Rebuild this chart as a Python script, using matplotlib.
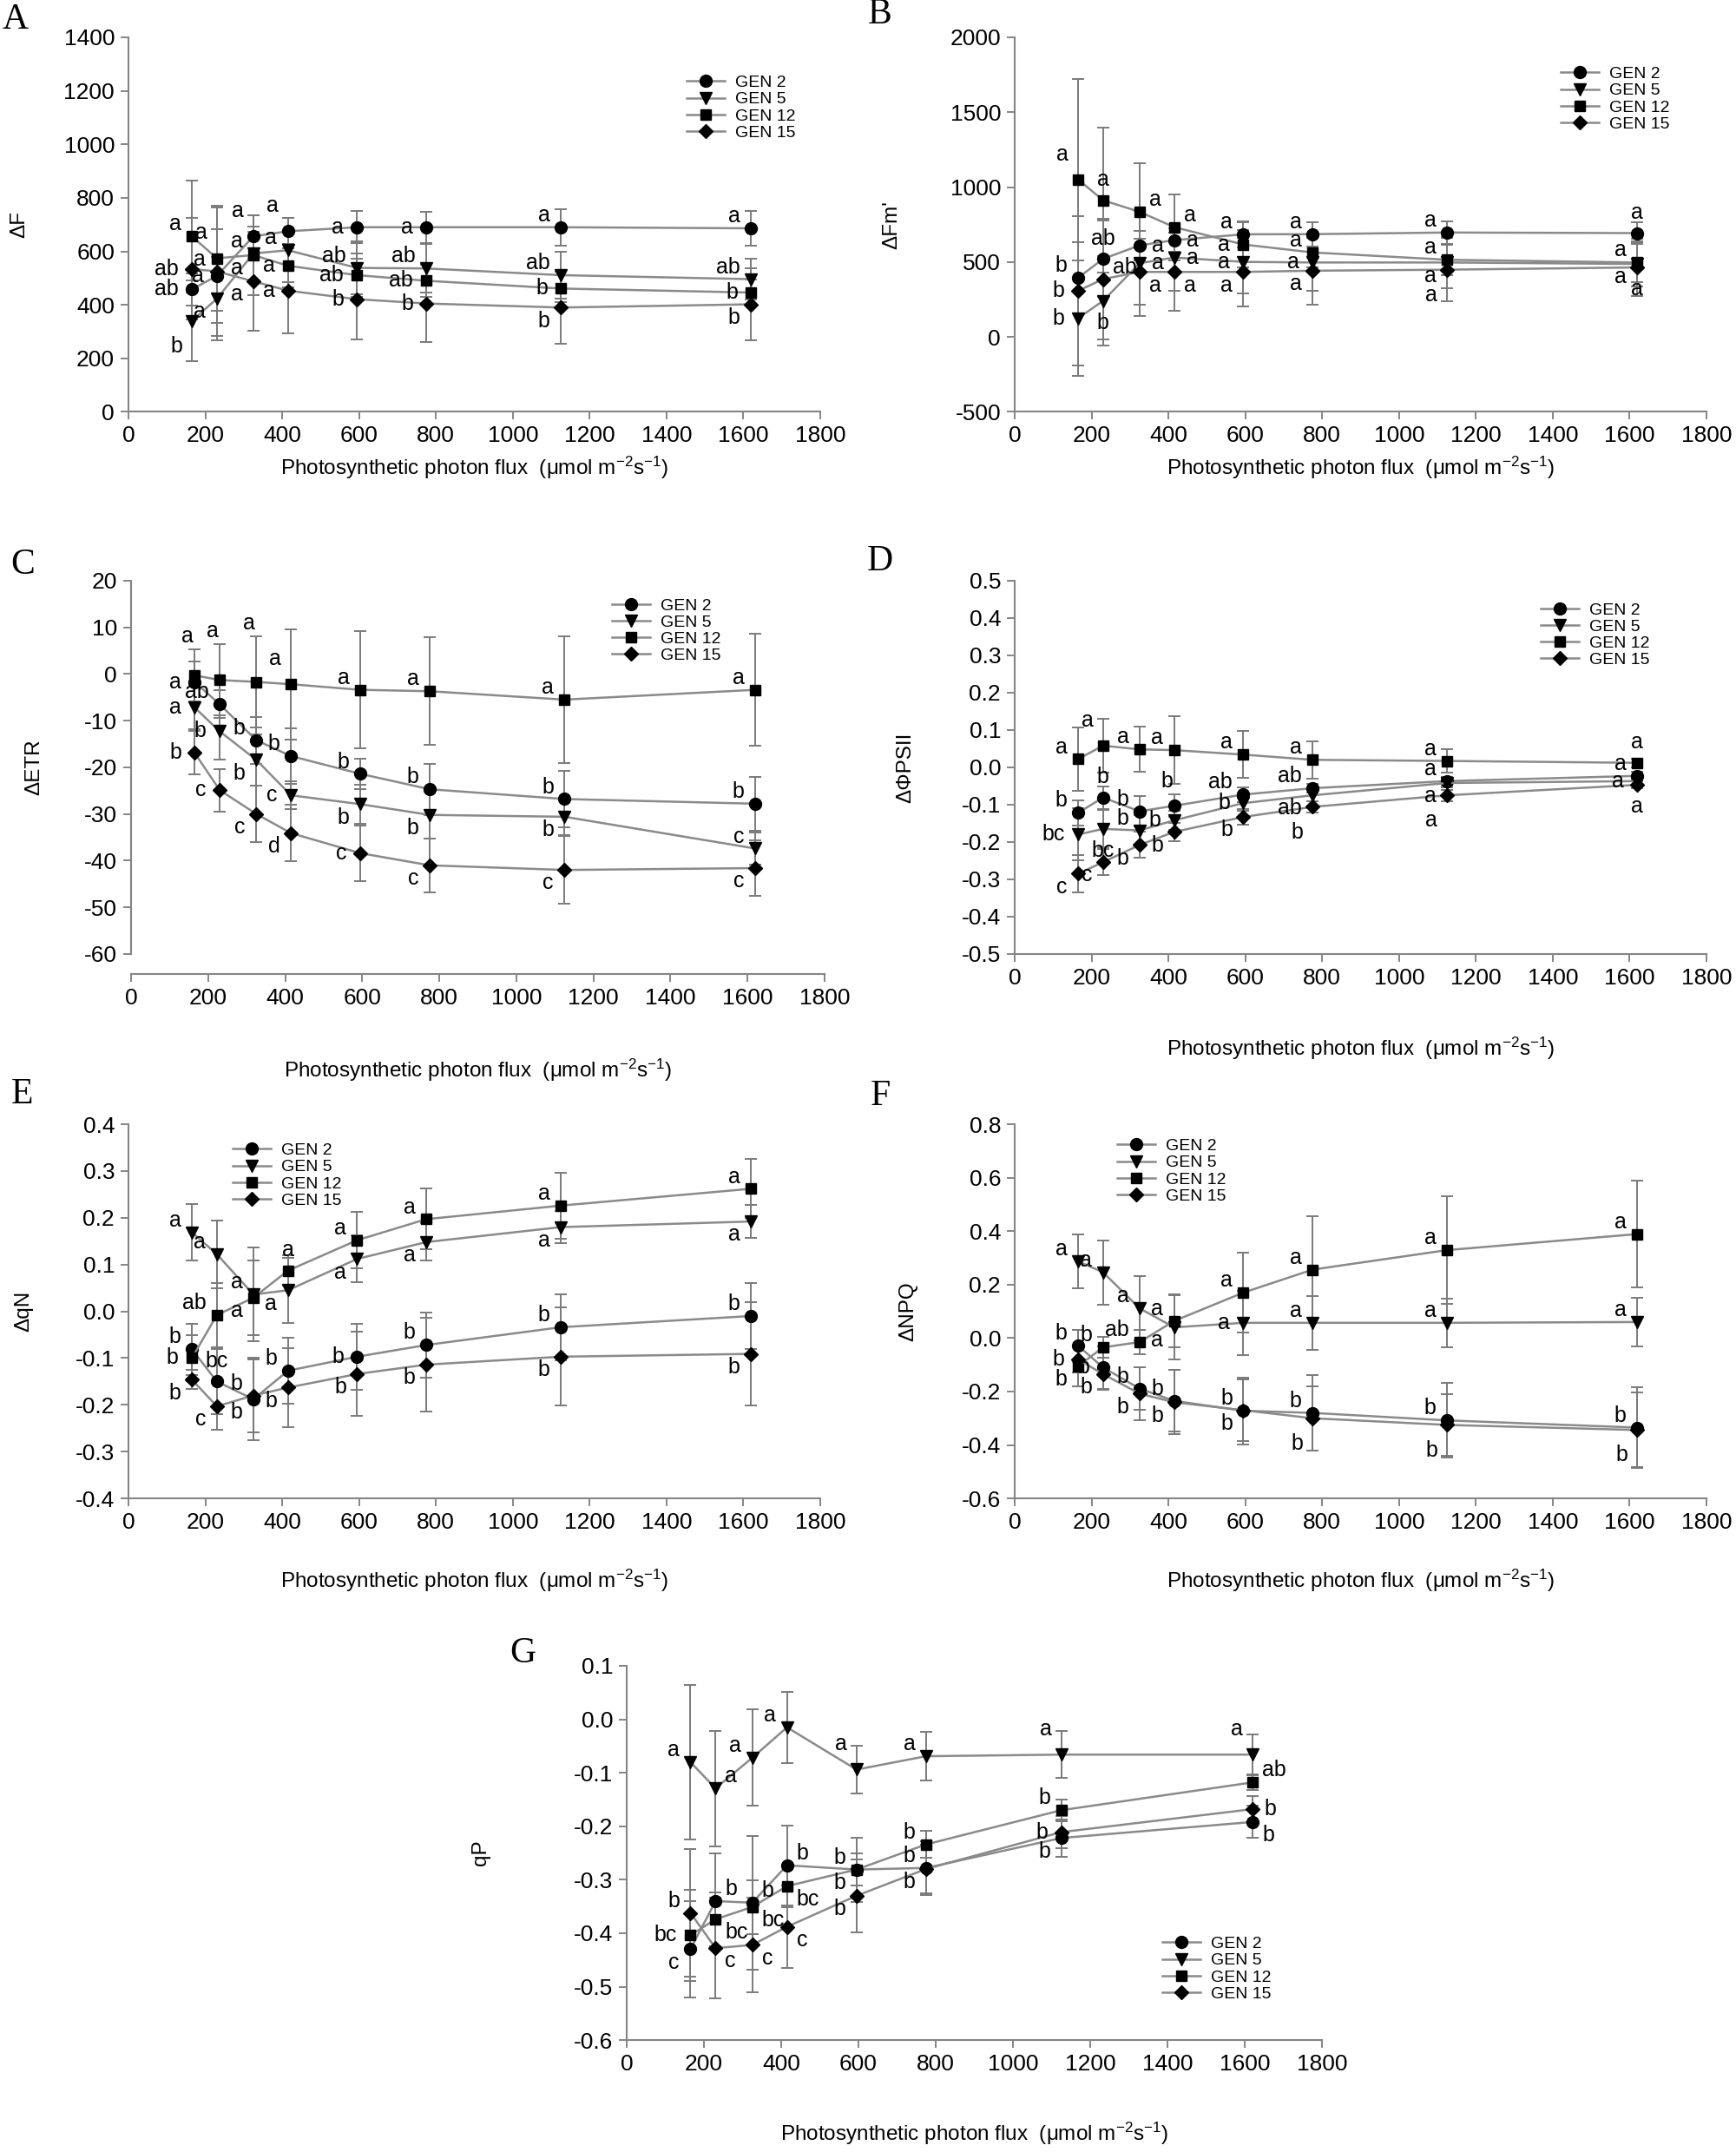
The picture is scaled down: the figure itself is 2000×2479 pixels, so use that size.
import numpy as np
import matplotlib
matplotlib.use("Agg")
import matplotlib.pyplot as plt
from matplotlib.lines import Line2D
from matplotlib.ticker import FormatStrFormatter

plt.rcParams['font.family'] = ['Liberation Sans', 'DejaVu Sans']
plt.rcParams['mathtext.default'] = 'regular'
plt.rcParams['axes.unicode_minus'] = False

# photosynthetic photon flux levels
ppf = [165, 230, 325, 415, 595, 775, 1125, 1620]
gens = ['GEN 2', 'GEN 5', 'GEN 12', 'GEN 15']

# ---- A: delta F ----
A_mean = {'GEN 2': [458, 508, 656, 675, 690, 690, 690, 686],
          'GEN 5': [340, 423, 592, 604, 538, 536, 511, 496],
          'GEN 12': [656, 574, 586, 546, 511, 490, 461, 446],
          'GEN 15': [534, 525, 488, 453, 421, 405, 390, 402]}
A_err = {'GEN 2': [60, 175, 80, 50, 60, 58, 68, 65],
         'GEN 5': [150, 155, 100, 120, 100, 90, 88, 75],
         'GEN 12': [210, 195, 150, 80, 80, 60, 50, 50],
         'GEN 15': [190, 240, 185, 160, 150, 145, 135, 135]}
A_let = {'GEN 2': ['ab', 'a', 'a', 'a', 'a', 'a', 'a', 'a'],
         'GEN 5': ['b', 'a', 'a', 'a', 'ab', 'ab', 'ab', 'ab'],
         'GEN 12': ['a', 'a', 'a', 'a', 'ab', 'ab', 'b', 'b'],
         'GEN 15': ['ab', 'a', 'a', 'a', 'b', 'b', 'b', 'b']}
A_pos = {'GEN 2': ['L', 'L', 'HL', 'HL', 'L', 'L', 'UL', 'UL'],
         'GEN 5': ['BL', 'DL', 'UL', 'UL', 'UL', 'UL', 'UL', 'UL'],
         'GEN 12': ['UL', 'HL', 'DL', 'L', 'L', 'L', 'L', 'L'],
         'GEN 15': ['L', 'UL', 'DL', 'L', 'L', 'L', 'DL', 'DL']}

# ---- B: delta Fm' ----
B_mean = {'GEN 2': [395, 521, 611, 646, 685, 686, 697, 693],
          'GEN 5': [125, 241, 492, 530, 501, 497, 497, 487],
          'GEN 12': [1051, 912, 835, 733, 617, 564, 515, 497],
          'GEN 15': [308, 386, 434, 434, 434, 442, 449, 464]}
B_err = {'GEN 2': [235, 255, 95, 80, 85, 80, 75, 72],
         'GEN 5': [385, 300, 350, 220, 210, 190, 170, 150],
         'GEN 12': [670, 483, 325, 220, 150, 100, 100, 130],
         'GEN 15': [500, 400, 220, 260, 230, 225, 210, 190]}
B_let = {'GEN 2': ['b', 'ab', 'a', 'a', 'a', 'a', 'a', 'a'],
         'GEN 5': ['b', 'b', 'a', 'a', 'a', 'a', 'a', 'a'],
         'GEN 12': ['a', 'a', 'a', 'a', 'a', 'a', 'a', 'a'],
         'GEN 15': ['b', 'ab', 'a', 'a', 'a', 'a', 'a', 'a']}
B_pos = {'GEN 2': ['UL', 'U', 'R', 'R', 'UL', 'UL', 'UL', 'U'],
         'GEN 5': ['L', 'D', 'R', 'R', 'L', 'L', 'DL', 'DL'],
         'GEN 12': ['HL', 'U', 'UR', 'UR', 'L', 'UL', 'UL', 'UL'],
         'GEN 15': ['L', 'UR', 'DR', 'DR', 'DL', 'DL', 'BL', 'D']}

# ---- C: delta ETR ----
C_mean = {'GEN 2': [-1.7, -6.5, -14.2, -17.6, -21.4, -24.7, -26.8, -27.8],
          'GEN 5': [-7.2, -12.3, -18.4, -26.0, -27.9, -30.2, -30.6, -37.4],
          'GEN 12': [-0.3, -1.3, -1.7, -2.2, -3.4, -3.7, -5.5, -3.4],
          'GEN 15': [-16.9, -24.9, -30.0, -34.1, -38.4, -41.0, -42.0, -41.6]}
C_err = {'GEN 2': [4.3, 3.0, 5.0, 6.0, 3.2, 5.5, 6.0, 5.8],
         'GEN 5': [4.6, 6.0, 5.5, 3.0, 4.2, 5.0, 4.0, 3.5],
         'GEN 12': [5.5, 7.6, 9.8, 11.8, 12.5, 11.5, 13.5, 12.0],
         'GEN 15': [4.6, 4.6, 6.0, 6.0, 6.0, 5.8, 7.2, 6.0]}
C_let = {'GEN 2': ['a', 'ab', 'b', 'b', 'b', 'b', 'b', 'b'],
         'GEN 5': ['a', 'b', 'b', 'c', 'b', 'b', 'b', 'c'],
         'GEN 12': ['a', 'a', 'a', 'a', 'a', 'a', 'a', 'a'],
         'GEN 15': ['b', 'c', 'c', 'd', 'c', 'c', 'c', 'c']}
C_pos = {'GEN 2': ['L', 'UL', 'UL', 'UL', 'UL', 'UL', 'UL', 'UL'],
         'GEN 5': ['L', 'L', 'DL', 'L', 'DL', 'DL', 'DL', 'UL'],
         'GEN 12': ['T', 'T', 'T', 'HL', 'UL', 'UL', 'UL', 'UL'],
         'GEN 15': ['L', 'L', 'DL', 'DL', 'L', 'DL', 'DL', 'DL']}

# ---- D: delta PhiPSII ----
D_mean = {'GEN 2': [-0.122, -0.081, -0.118, -0.103, -0.073, -0.056, -0.037, -0.023],
          'GEN 5': [-0.180, -0.165, -0.169, -0.142, -0.096, -0.075, -0.042, -0.037],
          'GEN 12': [0.022, 0.058, 0.048, 0.046, 0.034, 0.020, 0.017, 0.012],
          'GEN 15': [-0.285, -0.254, -0.208, -0.173, -0.133, -0.106, -0.075, -0.047]}
D_err = {'GEN 2': [0.033, 0.03, 0.04, 0.03, 0.02, 0.012, 0.012, 0.01],
         'GEN 5': [0.07, 0.05, 0.04, 0.025, 0.02, 0.015, 0.012, 0.01],
         'GEN 12': [0.085, 0.072, 0.06, 0.09, 0.063, 0.05, 0.031, 0.012],
         'GEN 15': [0.05, 0.035, 0.035, 0.025, 0.02, 0.015, 0.015, 0.01]}
D_let = {'GEN 2': ['b', 'b', 'b', 'b', 'ab', 'ab', 'a', 'a'],
         'GEN 5': ['bc', 'bc', 'b', 'b', 'b', 'ab', 'a', 'a'],
         'GEN 12': ['a', 'a', 'a', 'a', 'a', 'a', 'a', 'a'],
         'GEN 15': ['c', 'c', 'b', 'b', 'b', 'b', 'a', 'a']}
D_pos = {'GEN 2': ['UL', 'U', 'UL', 'T', 'UL', 'UL', 'UL', 'UL'],
         'GEN 5': ['L', 'D', 'UL', 'L', 'L', 'DL', 'DL', 'L'],
         'GEN 12': ['UL', 'HL', 'UL', 'UL', 'UL', 'UL', 'UL', 'U'],
         'GEN 15': ['DL', 'DL', 'DL', 'DL', 'DL', 'BL', 'BL', 'D']}

# ---- E: delta qN ----
E_mean = {'GEN 2': [-0.081, -0.150, -0.188, -0.127, -0.097, -0.072, -0.034, -0.010],
          'GEN 5': [0.169, 0.122, 0.036, 0.045, 0.112, 0.148, 0.180, 0.192],
          'GEN 12': [-0.100, -0.008, 0.029, 0.087, 0.152, 0.197, 0.226, 0.262],
          'GEN 15': [-0.146, -0.203, -0.180, -0.163, -0.134, -0.114, -0.097, -0.091]}
E_err = {'GEN 2': [0.055, 0.07, 0.088, 0.07, 0.07, 0.07, 0.07, 0.07],
         'GEN 5': [0.06, 0.072, 0.1, 0.07, 0.05, 0.04, 0.035, 0.035],
         'GEN 12': [0.05, 0.068, 0.08, 0.032, 0.06, 0.065, 0.07, 0.063],
         'GEN 15': [0.02, 0.05, 0.078, 0.085, 0.09, 0.1, 0.105, 0.11]}
E_let = {'GEN 2': ['b', 'bc', 'b', 'b', 'b', 'b', 'b', 'b'],
         'GEN 5': ['a', 'a', 'a', 'a', 'a', 'a', 'a', 'a'],
         'GEN 12': ['b', 'ab', 'a', 'a', 'a', 'a', 'a', 'a'],
         'GEN 15': ['b', 'c', 'b', 'b', 'b', 'b', 'b', 'b']}
E_pos = {'GEN 2': ['UL', 'U', 'DL', 'UL', 'L', 'UL', 'UL', 'UL'],
         'GEN 5': ['UL', 'UL', 'UL', 'DL', 'DL', 'DL', 'DL', 'DL'],
         'GEN 12': ['L', 'UL', 'DL', 'U', 'UL', 'UL', 'UL', 'UL'],
         'GEN 15': ['DL', 'DL', 'UL', 'DL', 'DL', 'DL', 'DL', 'DL']}

# ---- F: delta NPQ ----
F_mean = {'GEN 2': [-0.029, -0.110, -0.189, -0.235, -0.272, -0.280, -0.308, -0.335],
          'GEN 5': [0.287, 0.246, 0.111, 0.040, 0.057, 0.057, 0.057, 0.060],
          'GEN 12': [-0.105, -0.035, -0.015, 0.064, 0.170, 0.256, 0.329, 0.389],
          'GEN 15': [-0.080, -0.135, -0.208, -0.240, -0.270, -0.300, -0.325, -0.344]}
F_err = {'GEN 2': [0.06, 0.08, 0.08, 0.115, 0.125, 0.14, 0.14, 0.15],
         'GEN 5': [0.1, 0.12, 0.12, 0.12, 0.12, 0.1, 0.09, 0.09],
         'GEN 12': [0.075, 0.04, 0.045, 0.1, 0.15, 0.2, 0.2, 0.2],
         'GEN 15': [0.05, 0.06, 0.1, 0.12, 0.115, 0.12, 0.115, 0.14]}
F_let = {'GEN 2': ['b', 'b', 'b', 'b', 'b', 'b', 'b', 'b'],
         'GEN 5': ['a', 'a', 'a', 'a', 'a', 'a', 'a', 'a'],
         'GEN 12': ['b', 'b', 'ab', 'a', 'a', 'a', 'a', 'a'],
         'GEN 15': ['b', 'b', 'b', 'b', 'b', 'b', 'b', 'b']}
F_pos = {'GEN 2': ['UL', 'L', 'UL', 'UL', 'UL', 'UL', 'UL', 'UL'],
         'GEN 5': ['UL', 'UL', 'UL', 'DL', 'L', 'UL', 'UL', 'UL'],
         'GEN 12': ['DL', 'UL', 'UL', 'UL', 'UL', 'UL', 'UL', 'UL'],
         'GEN 15': ['L', 'DL', 'DL', 'DL', 'DL', 'BL', 'BL', 'BL']}

# ---- G: qP ----
G_mean = {'GEN 2': [-0.430, -0.340, -0.343, -0.273, -0.281, -0.278, -0.222, -0.192],
          'GEN 5': [-0.080, -0.129, -0.072, -0.015, -0.094, -0.069, -0.066, -0.066],
          'GEN 12': [-0.404, -0.374, -0.351, -0.312, -0.281, -0.234, -0.170, -0.118],
          'GEN 15': [-0.362, -0.428, -0.422, -0.388, -0.330, -0.280, -0.211, -0.168]}
G_err = {'GEN 2': [0.09, 0.09, 0.125, 0.075, 0.06, 0.05, 0.035, 0.03],
         'GEN 5': [0.145, 0.108, 0.09, 0.067, 0.044, 0.046, 0.044, 0.038],
         'GEN 12': [0.085, 0.05, 0.05, 0.04, 0.03, 0.025, 0.02, 0.015],
         'GEN 15': [0.12, 0.094, 0.088, 0.077, 0.068, 0.045, 0.03, 0.025]}
G_let = {'GEN 2': ['c', 'b', 'b', 'b', 'b', 'b', 'b', 'b'],
         'GEN 5': ['a', 'a', 'a', 'a', 'a', 'a', 'a', 'a'],
         'GEN 12': ['bc', 'bc', 'bc', 'bc', 'b', 'b', 'b', 'ab'],
         'GEN 15': ['b', 'c', 'c', 'c', 'b', 'b', 'b', 'b']}
G_pos = {'GEN 2': ['DL', 'UR', 'UR', 'UR', 'UL', 'UL', 'DL', 'DR'],
         'GEN 5': ['UL', 'UR', 'UL', 'UL', 'HL', 'UL', 'HL', 'HL'],
         'GEN 12': ['L', 'DR', 'DR', 'DR', 'DL', 'UL', 'UL', 'UR'],
         'GEN 15': ['UL', 'DR', 'DR', 'DR', 'DL', 'DL', 'L', 'R']}

# ---- styling / layout ----
markers = {'GEN 2': ('o', 10), 'GEN 5': ('v', 10), 'GEN 12': ('s', 9), 'GEN 15': ('D', 8.5)}
LINE = '#8a8a8a'
EBAR = '#7a7a7a'
AXC = '#858585'
# letter offsets (points): dx, dy, ha
OFF = {'L': (-11, 0, 'right'), 'UL': (-9, 10, 'right'), 'HL': (-8, 21, 'right'),
       'DL': (-9, -11, 'right'), 'BL': (-8, -21, 'right'),
       'U': (0, 17, 'center'), 'D': (0, -18, 'center'),
       'R': (10, 0, 'left'), 'UR': (8, 10, 'left'), 'DR': (8, -11, 'left'),
       'T': (-6, 11, 'center')}

xlab = 'Photosynthetic photon flux  (μmol m$^{-2}$s$^{-1}$)'

panels = [
    dict(tag='A', ylab='ΔF', mean=A_mean, err=A_err, let=A_let, pos=A_pos,
         rect=[0.074, 0.8086, 0.3985, 0.1741], ylim=(0, 1400), step=200, fmt='%d',
         leg=(0.3905, 0.969), tagxy=(0.009, 0.9907), ylx=-0.144, xly=-0.15, off=0),
    dict(tag='B', ylab="ΔFm'", mean=B_mean, err=B_err, let=B_let, pos=B_pos,
         rect=[0.5845, 0.8086, 0.3985, 0.1741], ylim=(-500, 2000), step=500, fmt='%d',
         leg=(0.894, 0.973), tagxy=(0.507, 0.9931), ylx=-0.1644, xly=-0.15, off=0),
    dict(tag='C', ylab='ΔETR', mean=C_mean, err=C_err, let=C_let, pos=C_pos,
         rect=[0.0755, 0.5567, 0.3995, 0.1735], ylim=(-60, 20), step=10, fmt='%d',
         leg=(0.3475, 0.726), tagxy=(0.013, 0.7374), ylx=-0.1264, xly=-0.3116, off=16.5),
    dict(tag='D', ylab='ΔΦPSII', mean=D_mean, err=D_err, let=D_let, pos=D_pos,
         rect=[0.5845, 0.5567, 0.3985, 0.1735], ylim=(-0.5, 0.5), step=0.1, fmt='%.1f',
         leg=(0.8825, 0.724), tagxy=(0.507, 0.739), ylx=-0.1443, xly=-0.2535, off=0),
    dict(tag='E', ylab='ΔqN', mean=E_mean, err=E_err, let=E_let, pos=E_pos,
         rect=[0.074, 0.3037, 0.3985, 0.1739], ylim=(-0.4, 0.4), step=0.1, fmt='%.1f',
         leg=(0.129, 0.4728), tagxy=(0.013, 0.4913), ylx=-0.138, xly=-0.22, off=0),
    dict(tag='F', ylab='ΔNPQ', mean=F_mean, err=F_err, let=F_let, pos=F_pos,
         rect=[0.5845, 0.3037, 0.3985, 0.1739], ylim=(-0.6, 0.8), step=0.2, fmt='%.1f',
         leg=(0.6385, 0.4748), tagxy=(0.507, 0.4905), ylx=-0.1405, xly=-0.22, off=0),
    dict(tag='G', ylab='qP', mean=G_mean, err=G_err, let=G_let, pos=G_pos,
         rect=[0.361, 0.052, 0.4005, 0.1739], ylim=(-0.6, 0.1), step=0.1, fmt='%.1f',
         leg=(0.6645, 0.1041), tagxy=(0.301, 0.2315), ylx=-0.196, xly=-0.25, off=0),
]

fig = plt.figure(figsize=(20, 24.79), dpi=100)

for p in panels:
    ax = fig.add_axes(p['rect'])
    for g in gens:
        m, ms = markers[g]
        y = p['mean'][g]
        e = p['err'][g]
        ax.errorbar(ppf, y, yerr=e, fmt=m + '-', color=LINE, lw=1.8,
                    mfc='black', mec='black', ms=ms, ecolor=EBAR,
                    elinewidth=1.4, capsize=5, capthick=1.4)
        for xi, yi, ei, s, c in zip(ppf, y, e, p['let'][g], p['pos'][g]):
            dx, dy, ha = OFF[c]
            yy = yi + ei if c == 'T' else yi
            ax.annotate(s, (xi, yy), xytext=(dx, dy), textcoords='offset points',
                        ha=ha, va='center', fontsize=18)
    lo, hi = p['ylim']
    ax.set_xlim(0, 1800)
    ax.set_ylim(lo, hi)
    ax.set_xticks(np.arange(0, 1801, 200))
    yt = np.round(np.arange(lo, hi + p['step'] / 2, p['step']), 6) + 0.0
    ax.set_yticks(yt)
    ax.yaxis.set_major_formatter(FormatStrFormatter(p['fmt']))
    for s in ['top', 'right']:
        ax.spines[s].set_visible(False)
    for s in ['left', 'bottom']:
        ax.spines[s].set_color(AXC)
        ax.spines[s].set_linewidth(1.5)
    if p['off']:
        ax.spines['bottom'].set_position(('outward', p['off']))
    ax.tick_params(direction='out', length=6.5, width=1.4, color=AXC, labelsize=19)
    ax.tick_params(axis='x', pad=5)
    ax.tick_params(axis='y', pad=5)
    ax.set_ylabel(p['ylab'], fontsize=17.5)
    ax.yaxis.set_label_coords(p['ylx'], 0.5)
    ax.set_xlabel(xlab, fontsize=17.5, va='center')
    ax.xaxis.set_label_coords(0.5, p['xly'])

    handles = [Line2D([], [], color=LINE, lw=1.8, marker=markers[g][0],
                      ms=markers[g][1], mfc='black', mec='black') for g in gens]
    ax.legend(handles, gens, loc='upper left', bbox_to_anchor=p['leg'],
              bbox_transform=fig.transFigure, frameon=False, fontsize=14,
              borderpad=0, labelspacing=0.08, handlelength=2.3, handletextpad=0.6)
    fig.text(p['tagxy'][0], p['tagxy'][1], p['tag'], family='Liberation Serif',
             fontsize=30, ha='center', va='center')

fig.savefig('out.png', dpi=100)
